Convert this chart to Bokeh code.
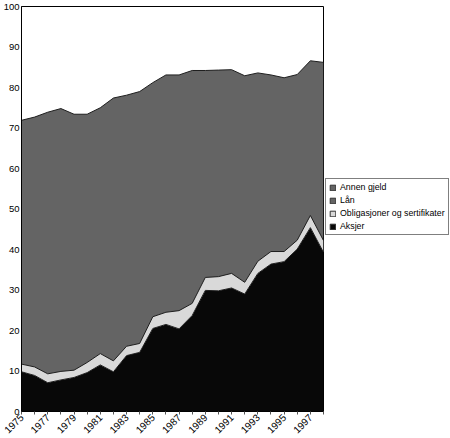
import math
from bokeh.plotting import figure
from bokeh.layouts import row
from bokeh.models import ColumnDataSource, Range1d, FixedTicker, Legend, LegendItem
from bokeh.embed import file_html
from bokeh.resources import INLINE

years = [1975, 1976, 1977, 1978, 1979, 1980, 1981, 1982, 1983, 1984, 1985, 1986,
         1987, 1988, 1989, 1990, 1991, 1992, 1993, 1994, 1995, 1996, 1997, 1998]
aksjer = [9.8, 8.9, 7.1, 7.8, 8.4, 9.6, 11.5, 9.8, 13.8, 14.6, 20.5, 21.5,
          20.4, 23.7, 29.9, 29.8, 30.5, 29.0, 34.1, 36.4, 37.0, 40.1, 45.4, 39.3]
obligasjoner = [1.9, 2.1, 2.2, 2.1, 1.8, 2.5, 2.8, 2.7, 2.3, 2.2, 2.9, 3.0,
                4.5, 3.0, 3.2, 3.5, 3.6, 2.9, 3.0, 3.1, 2.5, 2.2, 3.0, 2.9]
laan = [60.2, 61.7, 64.6, 64.9, 63.2, 61.3, 60.7, 64.9, 62.0, 62.2, 57.8, 58.6,
        58.2, 57.5, 51.1, 51.0, 50.3, 51.0, 46.5, 43.6, 42.9, 40.9, 38.2, 44.0]
annen_gjeld = [0.0, 0.0, 0.0, 0.0, 0.0, 0.0, 0.0, 0.0, 0.0, 0.0, 0.0, 0.0,
               0.0, 0.0, 0.0, 0.0, 0.0, 0.0, 0.0, 0.0, 0.0, 0.0, 0.0, 0.0]
series_names = ["Aksjer", "Obligasjoner og sertifikater", "Lån", "Annen gjeld"]
label_years = [1975, 1977, 1979, 1981, 1983, 1985, 1987, 1989, 1991, 1993, 1995, 1997]
y_ticks = [0, 10, 20, 30, 40, 50, 60, 70, 80, 90, 100]

colors = ["#080808", "#d9d9d9", "#646464", "#646464"]
keys = ["aksjer", "obl", "laan", "annen"]

source = ColumnDataSource(dict(year=years, aksjer=aksjer, obl=obligasjoner,
                               laan=laan, annen=annen_gjeld))

FONT = "Liberation Sans"
FW, FH = 302, 405
TOTAL_H = 438

p = figure(frame_width=FW, frame_height=FH, output_backend="svg", toolbar_location=None,
           x_range=Range1d(years[0], years[-1]), y_range=Range1d(0, 100),
           min_border_left=21, min_border_top=6, min_border_right=1, min_border_bottom=5)
p.xgrid.visible = False
p.ygrid.visible = False
p.outline_line_color = "black"
p.outline_line_width = 1
p.background_fill_color = "white"
p.border_fill_color = "white"

p.varea_stack(keys, x="year", color=colors, source=source)
p.vline_stack(keys[:3], x="year", color="#1e1e1e", line_width=1, source=source)

# x axis
p.xaxis.ticker = FixedTicker(ticks=years)
p.xaxis.major_label_overrides = {y: (str(y) if y in label_years else "") for y in years}
p.xaxis.major_label_orientation = math.pi / 4
p.xaxis.major_label_text_font = FONT
p.xaxis.major_label_text_font_size = "10px"
p.xaxis.major_label_text_color = "black"
p.xaxis.major_label_standoff = 1
p.xaxis.major_tick_out = 3
p.xaxis.major_tick_in = 0
p.xaxis.minor_tick_line_color = None
p.xaxis.axis_line_color = "black"
p.xaxis.major_tick_line_color = "#555555"

# y axis
p.yaxis.ticker = FixedTicker(ticks=y_ticks)
p.yaxis.major_label_text_font = FONT
p.yaxis.major_label_text_font_size = "9.5px"
p.yaxis.major_label_text_color = "black"
p.yaxis.major_label_standoff = 2
p.yaxis.major_tick_out = 0
p.yaxis.major_tick_in = 0
p.yaxis.minor_tick_line_color = None
p.yaxis.axis_line_color = "black"

# legend panel: a second, axis-less figure holding only the legend
LW = 125
p2 = figure(width=LW, height=TOTAL_H, output_backend="svg", toolbar_location=None,
            x_range=Range1d(0, 1), y_range=Range1d(0, 1),
            min_border=0, x_axis_type=None, y_axis_type=None)
p2.xgrid.visible = False
p2.ygrid.visible = False
p2.outline_line_color = None
p2.background_fill_color = "white"
p2.border_fill_color = "white"

nan = float("nan")
items = []
for name, col in reversed(list(zip(series_names, colors))):
    r = p2.quad(left=[nan], right=[nan], top=[nan], bottom=[nan],
                fill_color=col, line_color="#333333", line_width=1)
    items.append(LegendItem(label=name, renderers=[r]))

legend = Legend(items=items, location=(1, 175), orientation="vertical")
legend.label_text_font = FONT
legend.label_text_font_size = "8.8px"
legend.label_text_color = "black"
legend.glyph_width = 7
legend.glyph_height = 7
legend.label_standoff = 4
legend.label_height = 10
legend.spacing = 3
legend.padding = 3
legend.margin = 0
legend.border_line_color = "black"
legend.border_line_width = 1
legend.background_fill_color = "white"
legend.background_fill_alpha = 1
p2.add_layout(legend, "center")

layout = row(p, p2, spacing=0)
open("out.html", "w").write(file_html(layout, INLINE))
